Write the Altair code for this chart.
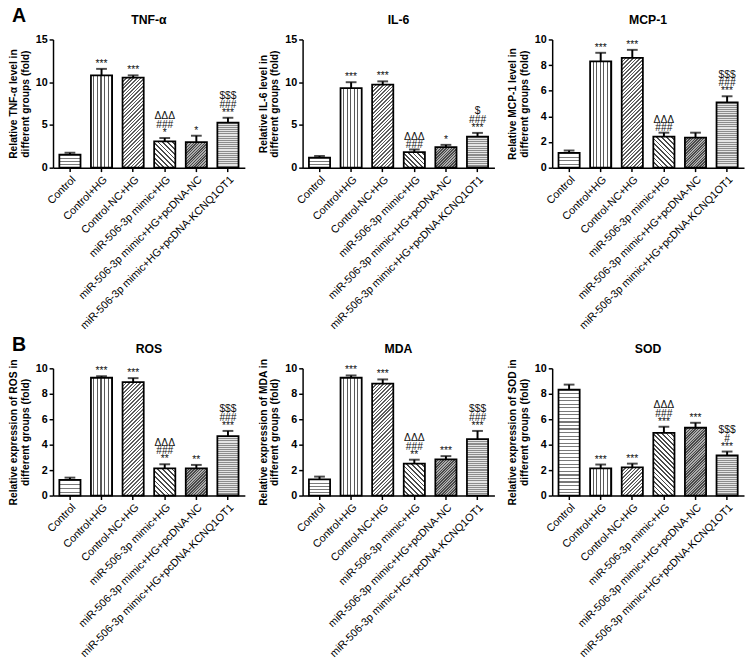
import altair as alt
import pandas as pd

FONT = "Liberation Sans"

categories = [
    "Control",
    "Control+HG",
    "Control-NC+HG",
    "miR-506-3p mimic+HG",
    "miR-506-3p mimic+HG+pcDNA-NC",
    "miR-506-3p mimic+HG+pcDNA-KCNQ1OT1",
]

panel_names = ["TNF-α", "IL-6", "MCP-1", "ROS", "MDA", "SOD"]
y_titles = [
    ["Relative TNF-α level in", "different groups (fold)"],
    ["Relative IL-6 level in", "different groups (fold)"],
    ["Relative MCP-1 level in", "different groups (fold)"],
    ["Relative expression of ROS in", "different groups (fold)"],
    ["Relative expression of MDA in", "different groups (fold)"],
    ["Relative expression of SOD in", "different groups (fold)"],
]
y_max = [15, 15, 10, 10, 10, 10]
y_ticks = [
    [0, 5, 10, 15],
    [0, 5, 10, 15],
    [0, 2, 4, 6, 8, 10],
    [0, 2, 4, 6, 8, 10],
    [0, 2, 4, 6, 8, 10],
    [0, 2, 4, 6, 8, 10],
]
row_labels = ["A", "B"]

# significance marks, listed from the line nearest the bar upwards
tnf_values = [1.53, 10.80, 10.53, 3.09, 3.00, 5.27]
tnf_errors = [0.22, 0.76, 0.27, 0.38, 0.74, 0.57]
tnf_marks = [[], ["***"], ["***"], ["*", "###", "ΔΔΔ"], ["*"], ["***", "###", "$$$"]]

il6_values = [1.18, 9.30, 9.73, 1.83, 2.40, 3.62]
il6_errors = [0.19, 0.70, 0.37, 0.30, 0.27, 0.45]
il6_marks = [[], ["***"], ["***"], ["###", "ΔΔΔ"], ["*"], ["***", "###", "$"]]

mcp1_values = [1.16, 8.30, 8.56, 2.43, 2.35, 5.09]
mcp1_errors = [0.18, 0.66, 0.63, 0.30, 0.38, 0.48]
mcp1_marks = [[], ["***"], ["***"], ["###", "ΔΔΔ"], [], ["***", "###", "$$$"]]

ros_values = [1.23, 9.26, 8.92, 2.13, 2.13, 4.67]
ros_errors = [0.18, 0.12, 0.31, 0.33, 0.28, 0.41]
ros_marks = [[], ["***"], ["***"], ["**", "###", "ΔΔΔ"], ["**"], ["***", "###", "$$$"]]

mda_values = [1.28, 9.26, 8.79, 2.51, 2.85, 4.44]
mda_errors = [0.21, 0.18, 0.34, 0.31, 0.25, 0.64]
mda_marks = [[], ["***"], ["***"], ["**", "###", "ΔΔΔ"], ["***"], ["***", "###", "$$$"]]

sod_values = [8.33, 2.13, 2.21, 4.92, 5.33, 3.15]
sod_errors = [0.39, 0.31, 0.30, 0.49, 0.39, 0.31]
sod_marks = [[], ["***"], ["***"], ["***", "###", "ΔΔΔ"], ["***"], ["***", "#", "$$$"]]

all_values = [tnf_values, il6_values, mcp1_values, ros_values, mda_values, sod_values]
all_errors = [tnf_errors, il6_errors, mcp1_errors, ros_errors, mda_errors, sod_errors]
all_marks = [tnf_marks, il6_marks, mcp1_marks, ros_marks, mda_marks, sod_marks]

W = 196
H_ROW = [131, 130]
P_IN, P_OUT = 0.33, 0.2
STEP = W / (len(categories) - P_IN + 2 * P_OUT)
BW = STEP * (1 - P_IN)
LINE_H = 9


def stripe_stops(n, line, bg, frac):
    stops = []
    for i in range(n):
        a = i / n
        b = (i + frac) / n
        c = (i + 1) / n
        stops += [
            {"offset": round(a, 5), "color": line},
            {"offset": round(b, 5), "color": line},
            {"offset": round(b, 5), "color": bg},
            {"offset": round(c, 5), "color": bg},
        ]
    return stops


def make_fill(kind, h, w):
    h = max(h, 1.0)
    r = h / w
    k = (1 + r) / (1 + r * r)
    if kind == 0:  # horizontal lines
        n = max(1, round(h / 3.6))
        return {"gradient": "linear", "x1": 0, "y1": 0, "x2": 0, "y2": 1,
                "stops": stripe_stops(n, "#7a7a7a", "#ffffff", 0.32)}
    if kind == 1:  # vertical lines
        n = max(1, round(w / 3.7))
        return {"gradient": "linear", "x1": 0, "y1": 0, "x2": 1, "y2": 0,
                "stops": stripe_stops(n, "#ffffff", "#5a5a5a", 0.7)}
    if kind == 2:  # dense "/" lines
        n = max(1, round((w + h) / (2.6 * 1.414)))
        return {"gradient": "linear", "x1": 0, "y1": 0, "x2": k, "y2": k * r,
                "stops": stripe_stops(n, "#5e5e5e", "#ffffff", 0.45)}
    if kind == 3:  # "\" lines
        n = max(1, round((w + h) / (3.4 * 1.414)))
        return {"gradient": "linear", "x1": 0, "y1": 1, "x2": k, "y2": 1 - k * r,
                "stops": stripe_stops(n, "#4a4a4a", "#ffffff", 0.38)}
    if kind == 4:  # dark checker
        n = max(1, round((w + h) / (2.0 * 1.414)))
        return {"gradient": "linear", "x1": 0, "y1": 0, "x2": k, "y2": k * r,
                "stops": stripe_stops(n, "#4a4a4a", "#ababab", 0.5)}
    n = max(1, round(h / 2.2))  # light checker
    return {"gradient": "linear", "x1": 0, "y1": 0, "x2": 0, "y2": 1,
            "stops": stripe_stops(n, "#8c8c8c", "#e4e4e4", 0.5)}


def panel(idx, row, col):
    vals = all_values[idx]
    errs = all_errors[idx]
    marks = all_marks[idx]
    ymax = y_max[idx]
    H = H_ROW[row]
    df = pd.DataFrame({
        "cat": categories,
        "value": vals,
        "top": [v + e for v, e in zip(vals, errs)],
        "m0": [m[0] if len(m) > 0 else "" for m in marks],
        "m1": [m[1] if len(m) > 1 else "" for m in marks],
        "m2": [m[2] if len(m) > 2 else "" for m in marks],
    })
    xscale = alt.Scale(domain=categories, paddingInner=P_IN, paddingOuter=P_OUT)
    yscale = alt.Scale(domain=[0, ymax], nice=False, zero=True)
    x_axis = alt.Axis(
        title=None, labelAngle=-45, labelFontSize=11, labelLimit=400,
        labelPadding=2, labelColor="black", tickSize=4,
    )
    y_axis = alt.Axis(
        title=y_titles[idx], values=y_ticks[idx], labelFontSize=11,
        labelFontWeight="bold", titleFontSize=10.5, titleFontWeight="bold",
        titlePadding=5, labelPadding=2, tickSize=4, titleLineHeight=12,
    )
    layers = []
    for i, cat in enumerate(categories):
        h = vals[i] / ymax * H
        layers.append(
            alt.Chart(df)
            .transform_filter(alt.FieldEqualPredicate(field="cat", equal=cat))
            .mark_bar(fill=make_fill(i, h, BW), stroke="black", strokeWidth=1.8)
        )
    rule = alt.Chart(df).mark_rule(color="black", strokeWidth=2).encode(y2="top:Q")
    cap = (
        alt.Chart(df)
        .transform_calculate(value="datum.top")
        .mark_tick(color="black", thickness=2, size=11)
    )
    texts = []
    for j in range(3):
        texts.append(
            alt.Chart(df)
            .transform_calculate(value="datum.top")
            .mark_text(baseline="bottom", dy=(0 if j == 0 else 1) - j * LINE_H,
                       fontSize=10.5, font=FONT, color="#111111")
            .encode(text=f"m{j}:N")
        )
    base = alt.layer(*layers, rule, cap, *texts).encode(
        x=alt.X("cat:N", sort=categories, scale=xscale, axis=x_axis),
        y=alt.Y("value:Q", scale=yscale, axis=y_axis),
    )
    lab = alt.Chart(pd.DataFrame({"t": [row_labels[row]]})).mark_text(
        align="left", baseline="middle", fontSize=20, fontWeight="bold",
        font=FONT, color="black", opacity=1 if col == 0 else 0,
    ).encode(x=alt.value(-42), y=alt.value(-24), text="t:N")
    ttl = alt.Chart(pd.DataFrame({"t": [panel_names[idx]]})).mark_text(
        align="center", baseline="middle", fontSize=12.5, fontWeight="bold",
        font=FONT, color="black",
    ).encode(x=alt.value(W / 2), y=alt.value(-20), text="t:N")
    return alt.layer(base, lab, ttl).properties(width=W, height=H)


rows = []
for r in range(2):
    rows.append(alt.hconcat(*[panel(r * 3 + c, r, c) for c in range(3)], spacing=12))

chart = (
    alt.vconcat(*rows, spacing=2)
    .properties(padding={"left": 0, "top": -10, "right": 0, "bottom": 0})
    .configure_view(stroke="transparent")
    .configure_axis(
        labelFont=FONT, titleFont=FONT, domainColor="black", tickColor="black",
        labelColor="black", titleColor="black", domainWidth=1.5, tickWidth=1.5,
        grid=False,
    )
)

chart.save("out.html", embed_options={"renderer": "svg", "actions": False})
